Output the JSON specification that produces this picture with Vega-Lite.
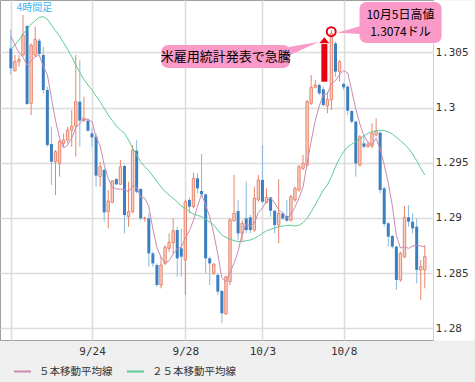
{
"$schema": "https://vega.github.io/schema/vega-lite/v6.json",
"width": 433, "height": 340,
"autosize": "none",
"padding": {"left": 0, "top": 0, "right": 42, "bottom": 42},
"background": "#efefef",
"datasets": {
"candles": [
{"n":1,"o":1.30536,"h":1.30708,"l":1.30294,"c":1.30355,"m5":1.30648,"m25":1.30527},
{"n":2,"o":1.30334,"h":1.30476,"l":1.30325,"c":1.30415,"m5":1.30566,"m25":1.30566},
{"n":3,"o":1.30415,"h":1.30476,"l":1.30370,"c":1.30436,"m5":1.30497,"m25":1.30612},
{"n":4,"o":1.30476,"h":1.30838,"l":1.30461,"c":1.30657,"m5":1.30455,"m25":1.30666},
{"n":5,"o":1.30738,"h":1.30747,"l":1.30023,"c":1.30032,"m5":1.30385,"m25":1.30708},
{"n":6,"o":1.30038,"h":1.30581,"l":1.29932,"c":1.30566,"m5":1.30421,"m25":1.30754},
{"n":7,"o":1.30476,"h":1.30732,"l":1.30461,"c":1.30618,"m5":1.30461,"m25":1.30787},
{"n":8,"o":1.30606,"h":1.30627,"l":1.30476,"c":1.30485,"m5":1.30473,"m25":1.30817},
{"n":9,"o":1.30476,"h":1.30551,"l":1.30128,"c":1.30159,"m5":1.30373,"m25":1.30823},
{"n":10,"o":1.30159,"h":1.30189,"l":1.29645,"c":1.29660,"m5":1.30298,"m25":1.30799},
{"n":11,"o":1.29669,"h":1.29826,"l":1.29298,"c":1.29509,"m5":1.30086,"m25":1.30748},
{"n":12,"o":1.29509,"h":1.29615,"l":1.29207,"c":1.29600,"m5":1.29884,"m25":1.30696},
{"n":13,"o":1.29494,"h":1.29706,"l":1.29374,"c":1.29691,"m5":1.29724,"m25":1.30648},
{"n":14,"o":1.29675,"h":1.29766,"l":1.29645,"c":1.29706,"m5":1.29633,"m25":1.30587},
{"n":15,"o":1.29706,"h":1.29826,"l":1.29675,"c":1.29796,"m5":1.29660,"m25":1.30527},
{"n":16,"o":1.29796,"h":1.29977,"l":1.29645,"c":1.29833,"m5":1.29724,"m25":1.30461},
{"n":17,"o":1.29833,"h":1.30476,"l":1.29555,"c":1.30053,"m5":1.29814,"m25":1.30385},
{"n":18,"o":1.30053,"h":1.30430,"l":1.29645,"c":1.29881,"m5":1.29854,"m25":1.30316},
{"n":19,"o":1.29881,"h":1.30098,"l":1.29872,"c":1.29902,"m5":1.29893,"m25":1.30255},
{"n":20,"o":1.29881,"h":1.29902,"l":1.29781,"c":1.29790,"m5":1.29893,"m25":1.30204},
{"n":21,"o":1.29766,"h":1.29811,"l":1.29645,"c":1.29730,"m5":1.29872,"m25":1.30159},
{"n":22,"o":1.29736,"h":1.29766,"l":1.29283,"c":1.29383,"m5":1.29736,"m25":1.30104},
{"n":23,"o":1.29374,"h":1.29509,"l":1.29283,"c":1.29464,"m5":1.29654,"m25":1.30053},
{"n":24,"o":1.29434,"h":1.29449,"l":1.28966,"c":1.29050,"m5":1.29482,"m25":1.29993},
{"n":25,"o":1.29056,"h":1.29253,"l":1.28905,"c":1.29153,"m5":1.29355,"m25":1.29932},
{"n":26,"o":1.29141,"h":1.29344,"l":1.29132,"c":1.29335,"m5":1.29277,"m25":1.29881},
{"n":27,"o":1.29352,"h":1.29358,"l":1.29298,"c":1.29304,"m5":1.29262,"m25":1.29833},
{"n":28,"o":1.29304,"h":1.29524,"l":1.29298,"c":1.29464,"m5":1.29262,"m25":1.29796},
{"n":29,"o":1.29470,"h":1.29479,"l":1.28860,"c":1.29026,"m5":1.29256,"m25":1.29766},
{"n":30,"o":1.29011,"h":1.29328,"l":1.28920,"c":1.29056,"m5":1.29237,"m25":1.29706},
{"n":31,"o":1.29056,"h":1.29660,"l":1.29041,"c":1.29615,"m5":1.29292,"m25":1.29630},
{"n":32,"o":1.29609,"h":1.29706,"l":1.29222,"c":1.29237,"m5":1.29280,"m25":1.29570},
{"n":33,"o":1.29262,"h":1.29268,"l":1.28981,"c":1.28996,"m5":1.29186,"m25":1.29509},
{"n":34,"o":1.28996,"h":1.29011,"l":1.28966,"c":1.28999,"m5":1.29180,"m25":1.29464},
{"n":35,"o":1.28996,"h":1.29041,"l":1.28558,"c":1.28679,"m5":1.29105,"m25":1.29428},
{"n":36,"o":1.28679,"h":1.28694,"l":1.28558,"c":1.28588,"m5":1.28899,"m25":1.29379},
{"n":37,"o":1.28573,"h":1.28588,"l":1.28377,"c":1.28392,"m5":1.28730,"m25":1.29328},
{"n":38,"o":1.28392,"h":1.28649,"l":1.28362,"c":1.28573,"m5":1.28646,"m25":1.29283},
{"n":39,"o":1.28588,"h":1.28754,"l":1.28573,"c":1.28733,"m5":1.28594,"m25":1.29238},
{"n":40,"o":1.28724,"h":1.28860,"l":1.28694,"c":1.28779,"m5":1.28612,"m25":1.29207},
{"n":41,"o":1.28776,"h":1.28996,"l":1.28679,"c":1.28884,"m5":1.28673,"m25":1.29177},
{"n":42,"o":1.28890,"h":1.28920,"l":1.28468,"c":1.28634,"m5":1.28721,"m25":1.29147},
{"n":43,"o":1.28724,"h":1.28905,"l":1.28468,"c":1.28649,"m5":1.28736,"m25":1.29108},
{"n":44,"o":1.28619,"h":1.29163,"l":1.28302,"c":1.29147,"m5":1.28818,"m25":1.29087},
{"n":45,"o":1.29163,"h":1.29184,"l":1.29041,"c":1.29102,"m5":1.28884,"m25":1.29056},
{"n":46,"o":1.29102,"h":1.29410,"l":1.29087,"c":1.29359,"m5":1.28978,"m25":1.29035},
{"n":47,"o":1.29359,"h":1.29404,"l":1.29222,"c":1.29268,"m5":1.29105,"m25":1.29023},
{"n":48,"o":1.29244,"h":1.29579,"l":1.29192,"c":1.29213,"m5":1.29216,"m25":1.29011},
{"n":49,"o":1.29213,"h":1.29222,"l":1.28498,"c":1.28634,"m5":1.29114,"m25":1.28987},
{"n":50,"o":1.28634,"h":1.28649,"l":1.28392,"c":1.28588,"m5":1.29011,"m25":1.28963},
{"n":51,"o":1.28498,"h":1.28588,"l":1.28483,"c":1.28582,"m5":1.28857,"m25":1.28936},
{"n":52,"o":1.28483,"h":1.28498,"l":1.28302,"c":1.28332,"m5":1.28670,"m25":1.28890},
{"n":53,"o":1.28338,"h":1.28347,"l":1.28045,"c":1.28136,"m5":1.28455,"m25":1.28845},
{"n":54,"o":1.28130,"h":1.28474,"l":1.28121,"c":1.28468,"m5":1.28422,"m25":1.28824},
{"n":55,"o":1.28423,"h":1.28996,"l":1.28392,"c":1.28981,"m5":1.28501,"m25":1.28806},
{"n":56,"o":1.28975,"h":1.29389,"l":1.28966,"c":1.29041,"m5":1.28591,"m25":1.28794},
{"n":57,"o":1.29062,"h":1.29163,"l":1.28800,"c":1.28860,"m5":1.28697,"m25":1.28785},
{"n":58,"o":1.28860,"h":1.28981,"l":1.28785,"c":1.28951,"m5":1.28860,"m25":1.28785},
{"n":59,"o":1.28996,"h":1.29328,"l":1.28860,"c":1.28890,"m5":1.28945,"m25":1.28794},
{"n":60,"o":1.29005,"h":1.29026,"l":1.28860,"c":1.28890,"m5":1.28926,"m25":1.28800},
{"n":61,"o":1.28890,"h":1.29283,"l":1.28875,"c":1.29178,"m5":1.28954,"m25":1.28815},
{"n":62,"o":1.29163,"h":1.29389,"l":1.29147,"c":1.29344,"m5":1.29050,"m25":1.28836},
{"n":63,"o":1.29344,"h":1.29660,"l":1.29132,"c":1.29147,"m5":1.29090,"m25":1.28860},
{"n":64,"o":1.29138,"h":1.29268,"l":1.29132,"c":1.29186,"m5":1.29150,"m25":1.28884},
{"n":65,"o":1.29186,"h":1.29192,"l":1.29011,"c":1.29065,"m5":1.29183,"m25":1.28896},
{"n":66,"o":1.29065,"h":1.29071,"l":1.28860,"c":1.28936,"m5":1.29135,"m25":1.28908},
{"n":67,"o":1.28936,"h":1.29350,"l":1.28770,"c":1.29041,"m5":1.29074,"m25":1.28920},
{"n":68,"o":1.29041,"h":1.29056,"l":1.28981,"c":1.28996,"m5":1.29044,"m25":1.28926},
{"n":69,"o":1.29017,"h":1.29163,"l":1.28966,"c":1.28975,"m5":1.29002,"m25":1.28932},
{"n":70,"o":1.28981,"h":1.29208,"l":1.28966,"c":1.29192,"m5":1.29029,"m25":1.28933},
{"n":71,"o":1.29163,"h":1.29283,"l":1.29147,"c":1.29268,"m5":1.29096,"m25":1.28926},
{"n":72,"o":1.29253,"h":1.29479,"l":1.29238,"c":1.29464,"m5":1.29180,"m25":1.28933},
{"n":73,"o":1.29449,"h":1.29570,"l":1.29434,"c":1.29494,"m5":1.29280,"m25":1.28957},
{"n":74,"o":1.29479,"h":1.30068,"l":1.29464,"c":1.30053,"m5":1.29494,"m25":1.28996},
{"n":75,"o":1.30038,"h":1.30294,"l":1.30023,"c":1.30183,"m5":1.29694,"m25":1.29056},
{"n":76,"o":1.30183,"h":1.30249,"l":1.30174,"c":1.30204,"m5":1.29881,"m25":1.29117},
{"n":77,"o":1.30204,"h":1.30219,"l":1.30113,"c":1.30128,"m5":1.30014,"m25":1.29186},
{"n":78,"o":1.30165,"h":1.30189,"l":1.30008,"c":1.30023,"m5":1.30119,"m25":1.29253},
{"n":79,"o":1.30014,"h":1.30144,"l":1.29947,"c":1.30074,"m5":1.30122,"m25":1.29298},
{"n":80,"o":1.30068,"h":1.30702,"l":1.29977,"c":1.30672,"m5":1.30219,"m25":1.29373},
{"n":81,"o":1.30581,"h":1.30596,"l":1.30279,"c":1.30325,"m5":1.30243,"m25":1.29464},
{"n":82,"o":1.30325,"h":1.30430,"l":1.30234,"c":1.30415,"m5":1.30301,"m25":1.29540},
{"n":83,"o":1.30213,"h":1.30225,"l":1.30159,"c":1.30183,"m5":1.30334,"m25":1.29600},
{"n":84,"o":1.30189,"h":1.30204,"l":1.29932,"c":1.29971,"m5":1.30313,"m25":1.29645},
{"n":85,"o":1.29968,"h":1.29977,"l":1.29857,"c":1.29872,"m5":1.30153,"m25":1.29669},
{"n":86,"o":1.29872,"h":1.29881,"l":1.29374,"c":1.29494,"m5":1.29987,"m25":1.29690},
{"n":87,"o":1.29479,"h":1.29751,"l":1.29464,"c":1.29736,"m5":1.29851,"m25":1.29715},
{"n":88,"o":1.29675,"h":1.29751,"l":1.29630,"c":1.29645,"m5":1.29745,"m25":1.29742},
{"n":89,"o":1.29645,"h":1.29691,"l":1.29639,"c":1.29669,"m5":1.29685,"m25":1.29766},
{"n":90,"o":1.29651,"h":1.29857,"l":1.29630,"c":1.29766,"m5":1.29663,"m25":1.29781},
{"n":91,"o":1.29751,"h":1.29902,"l":1.29736,"c":1.29781,"m5":1.29721,"m25":1.29790},
{"n":92,"o":1.29772,"h":1.29781,"l":1.29222,"c":1.29253,"m5":1.29624,"m25":1.29793},
{"n":93,"o":1.29268,"h":1.29283,"l":1.28920,"c":1.28945,"m5":1.29482,"m25":1.29790},
{"n":94,"o":1.28951,"h":1.28966,"l":1.28740,"c":1.28830,"m5":1.29316,"m25":1.29781},
{"n":95,"o":1.28836,"h":1.28845,"l":1.28724,"c":1.28740,"m5":1.29111,"m25":1.29760},
{"n":96,"o":1.28740,"h":1.28746,"l":1.28347,"c":1.28438,"m5":1.28842,"m25":1.29730},
{"n":97,"o":1.28438,"h":1.28694,"l":1.28423,"c":1.28679,"m5":1.28727,"m25":1.29700},
{"n":98,"o":1.28649,"h":1.29108,"l":1.28634,"c":1.29005,"m5":1.28739,"m25":1.29666},
{"n":99,"o":1.29005,"h":1.29117,"l":1.28920,"c":1.28966,"m5":1.28724,"m25":1.29630},
{"n":100,"o":1.28966,"h":1.29041,"l":1.28860,"c":1.28905,"m5":1.28745,"m25":1.29579},
{"n":101,"o":1.28920,"h":1.28996,"l":1.28408,"c":1.28529,"m5":1.28754,"m25":1.29518},
{"n":102,"o":1.28529,"h":1.28619,"l":1.28257,"c":1.28559,"m5":1.28745,"m25":1.29449},
{"n":103,"o":1.28529,"h":1.28754,"l":1.28362,"c":1.28649,"m5":1.28739,"m25":1.29389}
],
"boxes": [
{"g":"left","n1":38.06,"n2":69.83,"v1":1.30566,"v2":1.30358},
{"g":"right","n1":86.92,"n2":107.14,"v1":1.30956,"v2":1.30584}
],
"tails": [
{"g":"left","n":69.5,"v1":1.30548,"v2":1.30472},
{"g":"left","n":77.0,"v1":1.30596,"v2":1.30596},
{"g":"right","n":81.4,"v1":1.30678,"v2":1.30678},
{"g":"right","n":87.2,"v1":1.30738,"v2":1.30666}
],
"bigtext": [{"n":53.95,"v":1.30458,"label":"米雇用統計発表で急騰"}],
"hightext": [
{"n":97.0,"v":1.30838,"label":"10月5日高値"},
{"n":97.0,"v":1.30687,"label":"1.3074ドル"}
],
"arrow": [{"n":78.25,"v1":1.30234,"v2":1.30575,"head":1.30609}],
"peak": [{"n":79.94,"v":1.30687}],
"tag": [{"n":2.45,"v":1.30902,"label":"4時間足"}]
},
"resolve": {"axis": {"y": "independent"}},
"layer": [
{"data":{"name":"candles"},"transform":[{"filter":"datum.c < datum.o"}],
 "mark":{"type":"rule","color":"#8ab9df","strokeWidth":1},
 "encoding":{
  "x":{"field":"n","type":"quantitative","title":null,
       "scale":{"domain":[-0.44,103.79],"nice":false,"zero":false},
       "axis":{"orient":"bottom","values":[1,21,44,63,83],
               "labelExpr":"datum.value==21?'9/24':datum.value==44?'9/28':datum.value==63?'10/3':datum.value==83?'10/8':''",
               "grid":true,"gridColor":"#dcdcdc","gridWidth":1.5,"domain":false,"ticks":false,"tickSize":0,
               "labelPadding":5,"labelFont":"DejaVu Sans Mono","labelFontSize":11,"labelColor":"#333333","labelOverlap":false,"labelFlush":false}},
  "y":{"field":"l","type":"quantitative","title":null,
       "scale":{"domain":[1.27894,1.30974],"nice":false,"zero":false},
       "axis":{"orient":"right","values":[1.28,1.285,1.29,1.295,1.3,1.305],
               "grid":true,"gridColor":"#dcdcdc","gridWidth":1.5,"ticks":false,"tickSize":0,"labels":false,
               "domain":true,"domainColor":"#ffffff","domainWidth":41,"domainCap":"butt","offset":20.5,"zindex":0}},
  "y2":{"field":"h"}}},
{"data":{"name":"candles"},"transform":[{"filter":"datum.c >= datum.o"}],
 "mark":{"type":"rule","color":"#e8866d","strokeWidth":1},
 "encoding":{"x":{"field":"n","type":"quantitative","title":null},
  "y":{"field":"l","type":"quantitative","title":null,
       "axis":{"orient":"right","values":[1.28,1.285,1.29,1.295,1.3,1.305],"format":".3~f",
               "grid":false,"ticks":false,"tickSize":0,"domain":false,"zindex":1,
               "labelPadding":2,"labelAlign":"left","labelBaseline":"middle","labelFont":"DejaVu Sans Mono","labelFontSize":11,"labelColor":"#333333","labelOverlap":false,"labelFlush":false}},
  "y2":{"field":"h"}}},
{"data":{"name":"candles"},"transform":[{"filter":"datum.c < datum.o"}],
 "mark":{"type":"bar","color":"#3c7fc0","size":3},
 "encoding":{"x":{"field":"n","type":"quantitative","title":null},"y":{"field":"o","type":"quantitative","title":null,"axis":null},"y2":{"field":"c"}}},
{"data":{"name":"candles"},"transform":[{"filter":"datum.c >= datum.o"}],
 "mark":{"type":"bar","fill":"#f8d2c6","stroke":"#e8866d","strokeWidth":1,"size":2.4},
 "encoding":{"x":{"field":"n","type":"quantitative","title":null},"y":{"field":"o","type":"quantitative","title":null,"axis":null},"y2":{"field":"c"}}},
{"data":{"name":"candles"},
 "mark":{"type":"line","strokeWidth":1},
 "encoding":{"x":{"field":"n","type":"quantitative","title":null},"y":{"field":"m25","type":"quantitative","title":null,"axis":null},
  "color":{"datum":"２５本移動平均線","type":"nominal",
   "scale":{"domain":["５本移動平均線","２５本移動平均線"],"range":["#c98bb2","#5ccc94"]},
   "legend":{"orient":"none","legendX":13,"legendY":362,"direction":"horizontal","title":null,
     "symbolType":"stroke","symbolSize":289,"symbolStrokeWidth":2,"labelFont":"Noto Sans CJK JP","labelFontSize":10.5,
     "labelColor":"#333333","labelOffset":7,"columnPadding":10,"padding":0,"rowPadding":0}}}},
{"data":{"name":"candles"},
 "mark":{"type":"line","strokeWidth":1},
 "encoding":{"x":{"field":"n","type":"quantitative","title":null},"y":{"field":"m5","type":"quantitative","title":null,"axis":null},
  "color":{"datum":"５本移動平均線","type":"nominal"}}},
{"data":{"name":"tails"},
 "mark":{"type":"area","color":"#f99ac8","opacity":1},
 "encoding":{"x":{"field":"n","type":"quantitative","title":null},"y":{"field":"v1","type":"quantitative","title":null,"axis":null},"y2":{"field":"v2"},"detail":{"field":"g"}}},
{"data":{"name":"boxes"},
 "mark":{"type":"rect","color":"#f99ac8","cornerRadius":7},
 "encoding":{"x":{"field":"n1","type":"quantitative","title":null},"x2":{"field":"n2"},"y":{"field":"v1","type":"quantitative","title":null,"axis":null},"y2":{"field":"v2"}}},
{"data":{"name":"bigtext"},
 "mark":{"type":"text","font":"Noto Sans CJK JP","fontSize":13,"color":"#000000","align":"center","baseline":"middle"},
 "encoding":{"x":{"field":"n","type":"quantitative","title":null},"y":{"field":"v","type":"quantitative","title":null,"axis":null},"text":{"field":"label"}}},
{"data":{"name":"hightext"},
 "mark":{"type":"text","font":"Noto Sans CJK JP","fontSize":12,"color":"#000000","align":"center","baseline":"middle"},
 "encoding":{"x":{"field":"n","type":"quantitative","title":null},"y":{"field":"v","type":"quantitative","title":null,"axis":null},"text":{"field":"label"}}},
{"data":{"name":"arrow"},
 "mark":{"type":"rule","color":"#e60012","strokeWidth":6,"strokeCap":"butt"},
 "encoding":{"x":{"field":"n","type":"quantitative","title":null},"y":{"field":"v1","type":"quantitative","title":null,"axis":null},"y2":{"field":"v2"}}},
{"data":{"name":"arrow"},
 "mark":{"type":"point","shape":"M-1,0.6L1,0.6L0,-0.6Z","filled":true,"color":"#e60012","size":100,"opacity":1},
 "encoding":{"x":{"field":"n","type":"quantitative","title":null},"y":{"field":"head","type":"quantitative","title":null,"axis":null}}},
{"data":{"name":"peak"},
 "mark":{"type":"point","shape":"circle","filled":false,"color":"#e60012","strokeWidth":2,"size":80,"opacity":1},
 "encoding":{"x":{"field":"n","type":"quantitative","title":null},"y":{"field":"v","type":"quantitative","title":null,"axis":null}}},
{"data":{"name":"tag"},
 "mark":{"type":"text","font":"Noto Sans CJK JP","fontSize":10,"color":"#3cb4f0","align":"left","baseline":"middle"},
 "encoding":{"x":{"field":"n","type":"quantitative","title":null},"y":{"field":"v","type":"quantitative","title":null,"axis":null},"text":{"field":"label"}}}
],
"config": {
 "view": {"fill": "#ffffff", "stroke": "#a0a0a0", "strokeWidth": 1},
 "font": "Noto Sans CJK JP"
}
}
